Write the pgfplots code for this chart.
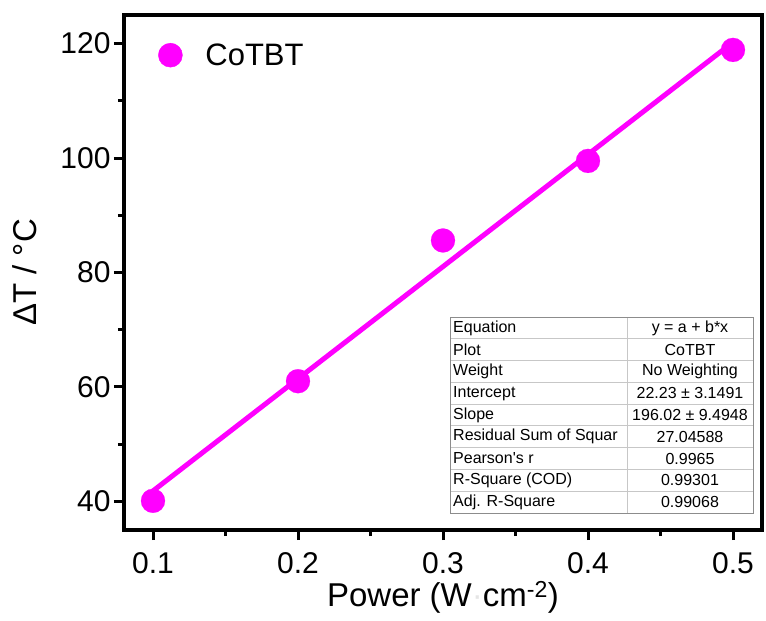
\documentclass[border=0pt]{standalone}
\usepackage{fontspec}
\setmainfont{Liberation Sans}
\usepackage{pgfplots}
\pgfplotsset{compat=1.18}
\definecolor{mag}{RGB}{255,0,255}
\begin{document}
\begin{tikzpicture}
\useasboundingbox (0,0) rectangle (766bp,621bp);
\begin{axis}[
  at={(124bp,91bp)}, anchor=south west, scale only axis,
  width=638bp, height=515bp,
  axis line style={line width=3.4bp},
  every outer x axis line/.append style={line width=3.4bp},
  every outer y axis line/.append style={line width=3.4bp},
  xmin=0.08, xmax=0.52, ymin=35, ymax=125,
  xtick={0.1,0.2,0.3,0.4,0.5}, xticklabels={0.1,0.2,0.3,0.4,0.5},
  ytick={40,60,80,100,120},
  minor xtick={0.15,0.25,0.35,0.45}, minor ytick={50,70,90,110},
  xtick pos=left, ytick pos=left,
  tick align=outside, major tick length=10bp, minor tick length=6bp,
  every tick/.style={line width=3bp, black},
  /pgf/number format/assume math mode=true,
  tick label style={font=\fontsize{30bp}{36bp}\selectfont},
  xticklabel style={yshift=-9bp},
  label style={font=\fontsize{33bp}{38bp}\selectfont},
  xlabel={Power (W{\color{gray!20}·}cm\textsuperscript{-2})},
  ylabel={ΔT / °C},
  xlabel style={at={(axis description cs:0.5,-0.13)}, anchor=center},
  ylabel style={at={(axis description cs:-0.155,0.5)}, anchor=center},
  legend style={at={(axis description cs:0.0533,0.922)}, anchor=west,
    draw=none, fill=none, inner sep=0pt, nodes={inner sep=0pt},
    font=\fontsize{31bp}{36bp}\selectfont},
  legend image code/.code={\fill[mag] (12bp,0bp) circle (12bp); \path[draw=none,fill=none] (0bp,0bp) -- (47bp,0bp);},
]
\addplot[mag, line width=5bp, forget plot] coordinates {(0.1,41.83) (0.5,120.24)};
\addplot[only marks, mark=*, mark size=12bp, color=mag, mark options={fill=mag, draw=mag, line width=0.2bp}]
  coordinates {(0.1,40.1) (0.2,61.0) (0.3,85.6) (0.4,99.5) (0.5,118.9)};
\addlegendentry{CoTBT}
\end{axis}
\begin{scope}[font=\fontsize{16bp}{19bp}\selectfont]
\fill[white] (450bp,108bp) rectangle (753bp,304bp);
\foreach \i in {1,...,8}
  \draw[black!22, line width=0.8bp] (450bp,{(304-21.78*\i)*1bp}) -- (753bp,{(304-21.78*\i)*1bp});
\draw[black!22, line width=0.8bp] (627bp,108bp) -- (627bp,304bp);
\draw[black!45, line width=0.8bp] (450bp,108bp) rectangle (753bp,304bp);
\foreach \l/\r [count=\i] in {{Equation}/{y = a + b*x}, {Plot}/{CoTBT}, {Weight}/{No Weighting},
  {Intercept}/{22.23 ± 3.1491}, {Slope}/{196.02 ± 9.4948}, {Residual Sum of Squar}/{27.04588},
  {Pearson\textquotesingle s r}/{0.9965}, {R-Square (COD)}/{0.99301}, {Adj. R-Square}/{0.99068}} {
  \node[anchor=west, inner sep=0pt] at (453bp,{(304-21.78*(\i-0.5))*1bp}) {\l};
  \node[inner sep=0pt] at (690bp,{(304-21.78*(\i-0.5))*1bp}) {\r};
}
\end{scope}
\end{tikzpicture}
\end{document}
